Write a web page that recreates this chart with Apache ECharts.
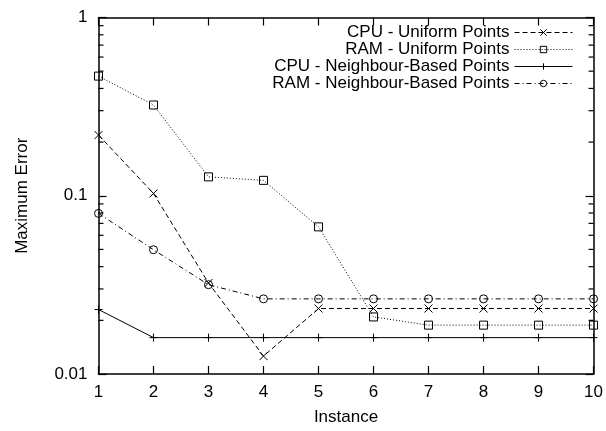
<!DOCTYPE html>
<html>
<head>
<meta charset="utf-8">
<script src="https://cdn.jsdelivr.net/npm/echarts@6/dist/echarts.min.js"></script>
<style>
  html, body { margin: 0; padding: 0; background: #fff; }
  #chart { width: 606px; height: 431px; }
</style>
</head>
<body>
<div id="chart"></div>
<script>
// Instances on the x axis
const instances = [1, 2, 3, 4, 5, 6, 7, 8, 9, 10];

// Maximum error per instance
const cpuUniform = [0.219, 0.103, 0.0324, 0.0126, 0.0233, 0.0233, 0.0233, 0.0233, 0.0233, 0.0233];
const ramUniform = [0.469, 0.323, 0.1276, 0.122, 0.0669, 0.0209, 0.0188, 0.0188, 0.0188, 0.0188];
const cpuNeighbour = [0.023, 0.016, 0.016, 0.016, 0.016, 0.016, 0.016, 0.016, 0.016, 0.016];
const ramNeighbour = [0.0796, 0.0498, 0.0317, 0.0264, 0.0264, 0.0264, 0.0264, 0.0264, 0.0264, 0.0264];

const seriesNames = [
  'CPU - Uniform Points',
  'RAM - Uniform Points',
  'CPU - Neighbour-Based Points',
  'RAM - Neighbour-Based Points'
];

// Minor tick positions on the logarithmic axis (2..9 of each decade)
const minorTickValues = [0.02, 0.03, 0.04, 0.05, 0.06, 0.07, 0.08, 0.09,
                         0.2, 0.3, 0.4, 0.5, 0.6, 0.7, 0.8, 0.9];

const FONT = 'Liberation Sans';
const FS = 17;

const crossPath = 'path://M0,0L10,10M10,0L0,10';
const plusPath = 'path://M5,0L5,10M0,5L10,5';

function pairs(values) {
  return instances.map((x, i) => [x, values[i]]);
}

function lineSeries(name, values, symbol, symbolSize, dash) {
  return {
    name: name,
    type: 'line',
    data: pairs(values),
    symbol: symbol,
    symbolSize: symbolSize,
    showAllSymbol: true,
    clip: false,
    animation: false,
    lineStyle: { color: '#000', width: 1, type: dash },
    itemStyle: { color: 'rgba(0,0,0,0)', borderColor: '#000', borderWidth: 1 },
    emphasis: { disabled: true }
  };
}

const chart = echarts.init(document.getElementById('chart'), null, { renderer: 'canvas' });

const legendTops = [24, 41, 58, 75];
const legends = seriesNames.map((n, i) => ({
  data: [n],
  right: 33,
  top: legendTops[i],
  padding: 0,
  orient: 'vertical',
  align: 'right',
  itemWidth: 58,
  itemHeight: 8,
  selectedMode: false,
  lineStyle: { width: 1 },
  itemStyle: { borderWidth: 1 },
  textStyle: { fontFamily: FONT, fontSize: FS, color: '#000', lineHeight: 17 }
}));

const tickLine = { color: '#000', width: 1.2 };

chart.setOption({
  backgroundColor: '#fff',
  animation: false,
  legend: legends,
  grid: { left: 98.5, right: 12, top: 17.5, bottom: 50 },
  xAxis: [
    {
      type: 'value',
      min: 1, max: 10, interval: 1,
      name: 'Instance',
      nameLocation: 'middle',
      nameGap: 35,
      nameTextStyle: { fontFamily: FONT, fontSize: FS, color: '#000' },
      axisLine: { show: true, lineStyle: { color: '#000', width: 1.5 } },
      axisTick: { show: true, inside: true, length: 8, lineStyle: tickLine },
      axisLabel: { fontFamily: FONT, fontSize: FS, color: '#000', margin: 10 },
      splitLine: { show: false }
    },
    {
      type: 'value',
      position: 'top',
      min: 1, max: 10, interval: 1,
      axisLine: { show: true, lineStyle: { color: '#000', width: 1.5 } },
      axisTick: { show: true, inside: true, length: 8, lineStyle: tickLine },
      axisLabel: { show: false },
      splitLine: { show: false }
    }
  ],
  yAxis: [
    {
      type: 'log',
      logBase: 10,
      min: 0.01, max: 1,
      name: 'Maximum Error',
      nameLocation: 'middle',
      nameGap: 68,
      nameTextStyle: { fontFamily: FONT, fontSize: FS, color: '#000' },
      axisLine: { show: true, lineStyle: { color: '#000', width: 1.5 } },
      axisTick: { show: true, inside: true, length: 8, lineStyle: tickLine },
      axisLabel: { fontFamily: FONT, fontSize: FS, color: '#000', margin: 11,
                   formatter: v => String(Number(v.toPrecision(3))) },
      splitLine: { show: false }
    },
    {
      type: 'log',
      logBase: 10,
      position: 'right',
      min: 0.01, max: 1,
      axisLine: { show: true, lineStyle: { color: '#000', width: 1.5 } },
      axisTick: { show: true, inside: true, length: 8, lineStyle: tickLine },
      axisLabel: { show: false },
      splitLine: { show: false }
    }
  ],
  series: [
    lineSeries(seriesNames[0], cpuUniform, crossPath, 8, [5, 3]),
    lineSeries(seriesNames[1], ramUniform, 'rect', 8, [1, 2]),
    lineSeries(seriesNames[2], cpuNeighbour, plusPath, 8, 'solid'),
    lineSeries(seriesNames[3], ramNeighbour, 'circle', 8, [5, 3, 1, 3])
  ]
});

// Minor ticks on both vertical borders, placed through the log axis scale
const rect = chart.getModel().getComponent('grid', 0).coordinateSystem.getRect();
const minorTicks = [];
minorTickValues.forEach(v => {
  const y = chart.convertToPixel({ yAxisIndex: 0 }, v);
  minorTicks.push({
    type: 'line', silent: true, z: 10,
    shape: { x1: rect.x, y1: y, x2: rect.x + 5, y2: y },
    style: { stroke: '#000', lineWidth: 1.2 }
  });
  minorTicks.push({
    type: 'line', silent: true, z: 10,
    shape: { x1: rect.x + rect.width - 5, y1: y, x2: rect.x + rect.width, y2: y },
    style: { stroke: '#000', lineWidth: 1.2 }
  });
});
chart.setOption({ graphic: minorTicks });
</script>
</body>
</html>
